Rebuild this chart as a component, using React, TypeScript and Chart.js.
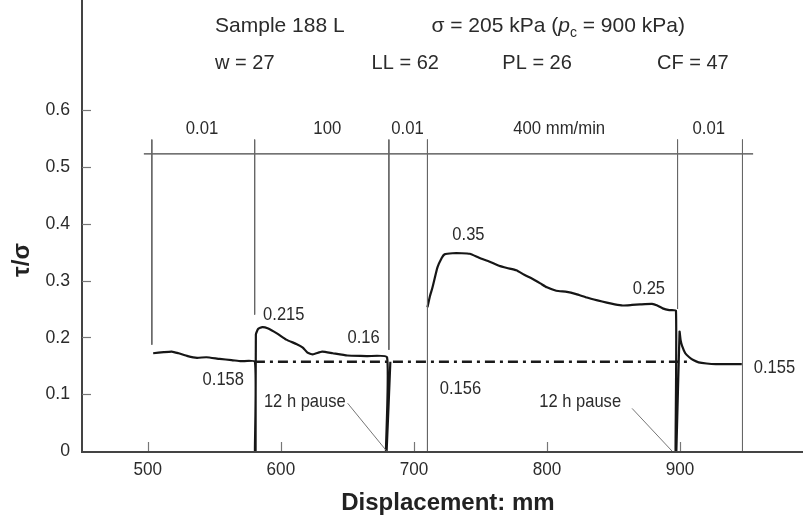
import React, { useEffect, useRef } from "react";
import { Chart, registerables } from "chart.js";
Chart.register(...registerables);

// ---------- data ----------
const xTickValues = [500, 600, 700, 800, 900];
const yTickValues = [0, 0.1, 0.2, 0.3, 0.4, 0.5, 0.6];

// displacement (mm) and tau/sigma of the measured curve (null = break)
const displacement = [
  504, 512, 518, 523, 530, 537, 544, 554, 563, 570, 580.5,
  580.5, 581, 581.2, 583, 586, 590, 597, 604, 612, 616.5, 620, 624, 631, 639, 650, 665, 679.8,
  679, 679.5, 682.3,
  696,
  710.2, 712, 714, 717.7, 721, 723, 729, 736, 742, 749, 757, 764, 770, 777, 783, 789, 795, 800,
  807, 815, 822, 830, 838, 845, 851, 857, 864, 870, 879, 883, 887, 892, 897,
  896.7, 897.3, 899.7, 900.5, 901.6, 904, 907, 910, 914, 920, 927, 946.5,
];
const tauRatio = [
  0.172, 0.174, 0.175, 0.172, 0.167, 0.164, 0.165, 0.162, 0.160, 0.158, 0.157,
  0, 0, 0.205, 0.215, 0.218, 0.216, 0.207, 0.196, 0.188, 0.182, 0.173, 0.170, 0.175, 0.172, 0.168, 0.167, 0.165,
  0, 0, 0.157,
  null,
  0.253, 0.272, 0.288, 0.323, 0.340, 0.346, 0.348, 0.348, 0.347, 0.340, 0.333, 0.326, 0.322, 0.318, 0.310, 0.303, 0.295, 0.288,
  0.282, 0.280, 0.276, 0.270, 0.265, 0.261, 0.258, 0.256, 0.257, 0.258, 0.259, 0.256, 0.251, 0.248, 0.247,
  0, 0, 0.210, 0.195, 0.185, 0.172, 0.165, 0.160, 0.156, 0.154, 0.153, 0.153,
];

// residual (dash-dot) line
const residualX = [580.5, 906];
const residualY = [0.157, 0.157];

// rate-change boundaries
const boundaryX = [503, 580.3, 681.2, 710.2, 898.2, 947];
const boundaryTop = [0.548, 0.548, 0.548, 0.548, 0.548, 0.548];
const boundaryBottom = [0.187, 0.24, 0.178, 0, 0.25, 0];
const rateLineX = [497, 955];
const rateLineY = [0.523, 0.523];

// rate labels
const rateLabels = ["0.01", "100", "0.01", "400 mm/min", "0.01"];
const rateLabelX = [540.7, 634.9, 695.2, 809.2, 921.7];
const rateLabelY = 0.567;

// value annotations
const noteTexts = ["0.158", "0.215", "0.16", "12 h pause", "0.35", "0.25", "0.156", "12 h pause", "0.155"];
const noteX = [556.7, 602.2, 662.2, 618, 741, 876.7, 735, 825, 971];
const noteY = [0.1246, 0.240, 0.200, 0.086, 0.381, 0.286, 0.110, 0.086, 0.146];

// pause leader lines
const leader1X = [650.2, 679.5];
const leader1Y = [0.084, 0.0];
const leader2X = [864, 894];
const leader2Y = [0.075, 0.0];

// header
const headerRow1 = ["Sample 188 L"];
const headerRow2 = ["w = 27", "LL = 62", "PL = 26", "CF = 47"];
const headerRow2X = [550.5, 668.2, 766.5, 882.7];
const headerRow1X = 550.5;
const sigmaX = 713.2;
const headerY1 = 0.747;
const headerY2 = 0.682;

const SANS = '"Liberation Sans", Arial, sans-serif';
const TEXT = "#2b2b2b";
const AXIS = "#444";

const pairs = (xs: number[], ys: (number | null)[]) => xs.map((x, i) => ({ x, y: ys[i] }));

function squeezed(ctx: any, text: string, x: number, y: number, align: string, sx: number) {
  ctx.save();
  ctx.translate(x, y);
  ctx.scale(sx, 1);
  ctx.textAlign = align;
  ctx.fillText(text, 0, 0);
  ctx.restore();
}

const annotPlugin = {
  id: "annot",
  afterDraw(chart: any) {
    const { ctx, scales } = chart;
    const px = (v: number) => scales.x.getPixelForValue(v);
    const py = (v: number) => scales.y.getPixelForValue(v);
    const left = px(scales.x.min);
    const bottom = py(0);
    const fullW = ctx.canvas.width;
    ctx.save();
    // axis lines
    ctx.strokeStyle = AXIS;
    ctx.lineWidth = 2;
    ctx.beginPath();
    ctx.moveTo(left, 0);
    ctx.lineTo(left, bottom + 1);
    ctx.lineTo(fullW, bottom + 1);
    ctx.stroke();
    // inward ticks
    ctx.strokeStyle = "#777";
    ctx.lineWidth = 1.2;
    yTickValues.forEach((v) => {
      if (v === 0) return;
      const y = Math.round(py(v)) + 0.5;
      ctx.beginPath();
      ctx.moveTo(left, y);
      ctx.lineTo(left + 9, y);
      ctx.stroke();
    });
    xTickValues.forEach((v) => {
      const x = Math.round(px(v)) + 0.5;
      ctx.beginPath();
      ctx.moveTo(x, bottom);
      ctx.lineTo(x, bottom - 9);
      ctx.stroke();
    });

    ctx.fillStyle = TEXT;
    ctx.textBaseline = "middle";
    // tick labels
    ctx.font = `19px ${SANS}`;
    yTickValues.forEach((v) =>
      squeezed(ctx, v === 0 ? "0" : v.toFixed(1), left - 12, py(v), "right", 0.93)
    );
    xTickValues.forEach((v) =>
      squeezed(ctx, String(v), px(v), bottom + 19, "center", 0.9)
    );

    // rate labels
    rateLabels.forEach((t, i) => squeezed(ctx, t, px(rateLabelX[i]), py(rateLabelY), "center", 0.88));
    // notes
    noteTexts.forEach((t, i) => squeezed(ctx, t, px(noteX[i]), py(noteY[i]), "center", 0.87));

    // header
    ctx.textAlign = "left";
    ctx.font = `21px ${SANS}`;
    ctx.fillText(headerRow1[0], px(headerRow1X), py(headerY1));
    // sigma line with italic p and subscript c
    let x = px(sigmaX);
    const y = py(headerY1);
    const part1 = "σ = 205 kPa (";
    ctx.fillText(part1, x, y);
    x += ctx.measureText(part1).width;
    ctx.font = `italic 21px ${SANS}`;
    ctx.fillText("p", x, y);
    x += ctx.measureText("p").width;
    ctx.font = `14px ${SANS}`;
    ctx.fillText("c", x, y + 7);
    x += ctx.measureText("c").width;
    ctx.font = `21px ${SANS}`;
    ctx.fillText(" = 900 kPa)", x, y);

    ctx.font = `20px ${SANS}`;
    headerRow2.forEach((t, i) => ctx.fillText(t, px(headerRow2X[i]), py(headerY2)));

    // axis titles
    ctx.font = `bold 24px ${SANS}`;
    ctx.textAlign = "center";
    ctx.fillStyle = "#222";
    ctx.fillText("Displacement: mm", px(725.6), bottom + 52);
    ctx.save();
    ctx.translate(left - 60, py(0.336));
    ctx.rotate(-Math.PI / 2);
    ctx.fillText("τ/σ", 0, 0);
    ctx.restore();
    ctx.restore();
  },
};

const zeroPad = (s: any) => {
  s.paddingTop = 0;
  s.paddingBottom = 0;
  s.paddingLeft = 0;
  s.paddingRight = 0;
};

export default function App() {
  const ref = useRef<HTMLCanvasElement | null>(null);
  useEffect(() => {
    if (!ref.current) return;
    const thin = (xs: number[], ys: number[], color = "#555", w = 1) => ({
      data: pairs(xs, ys),
      showLine: true,
      borderColor: color,
      borderWidth: w,
      pointRadius: 0,
      fill: false,
    });
    const datasets: any[] = [];
    boundaryX.forEach((bx, i) =>
      datasets.push(thin([bx, bx], [boundaryTop[i], boundaryBottom[i]], "#666", 1))
    );
    datasets.push(thin(rateLineX, rateLineY, "#444", 1.2));
    datasets.push(thin(leader1X, leader1Y, "#666", 0.9));
    datasets.push(thin(leader2X, leader2Y, "#666", 0.9));
    datasets.push({
      data: pairs(residualX, residualY),
      showLine: true,
      borderColor: "#1a1a1a",
      borderWidth: 2.5,
      borderDash: [10, 5, 3, 5],
      pointRadius: 0,
    });
    datasets.push({
      data: pairs(displacement, tauRatio),
      showLine: true,
      spanGaps: false,
      borderColor: "#161616",
      borderWidth: 2.2,
      pointRadius: 0,
      tension: 0.15,
    });
    const chart = new Chart(ref.current, {
      type: "scatter",
      data: { datasets },
      plugins: [annotPlugin],
      options: {
        animation: false,
        responsive: false,
        layout: { padding: 0 },
        plugins: { legend: { display: false }, tooltip: { enabled: false } },
        scales: {
          x: {
            type: "linear",
            min: 450.5,
            max: 992.5,
            afterBuildTicks: (s: any) => {
              s.ticks = xTickValues.map((v) => ({ value: v }));
            },
            afterFit: (s: any) => {
              s.height = 71;
              zeroPad(s);
            },
            grid: { display: false },
            border: { display: false },
            ticks: { display: false },
          },
          y: {
            type: "linear",
            min: 0,
            max: 0.7936,
            afterBuildTicks: (s: any) => {
              s.ticks = yTickValues.map((v) => ({ value: v }));
            },
            afterFit: (s: any) => {
              s.width = 82;
              zeroPad(s);
            },
            grid: { display: false },
            border: { display: false },
            ticks: { display: false },
          },
        },
      },
    } as any);
    return () => chart.destroy();
  }, []);
  return (
    <div style={{ position: "absolute", left: 0, top: 0, width: 803, height: 522, background: "#fff" }}>
      <canvas ref={ref} width={803} height={522} style={{ display: "block" }} />
    </div>
  );
}
